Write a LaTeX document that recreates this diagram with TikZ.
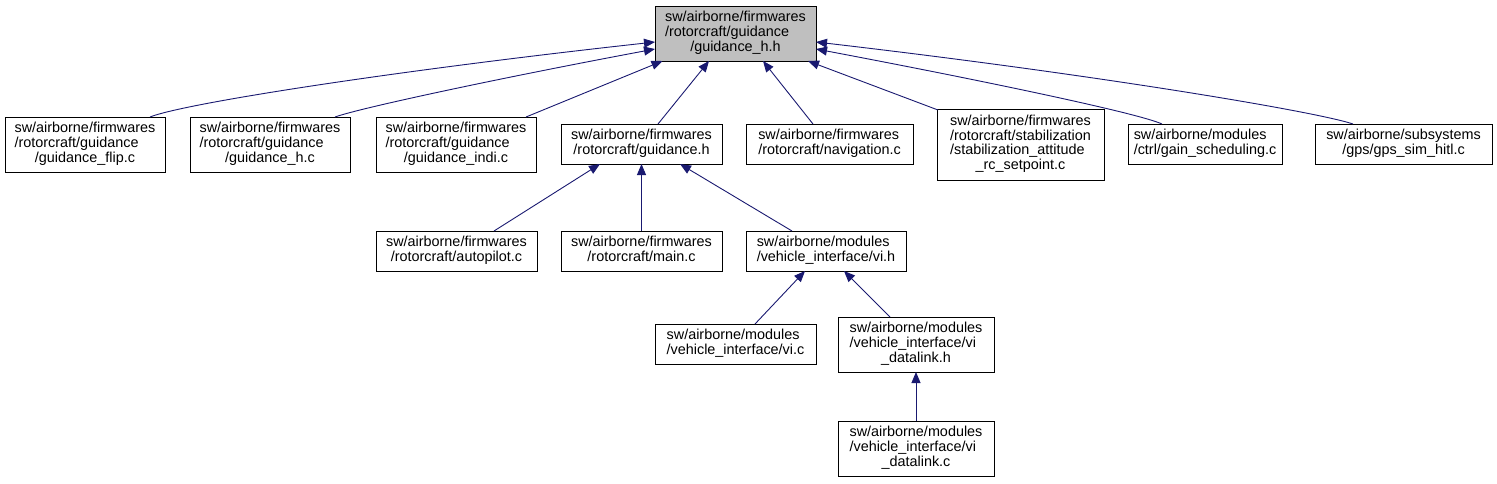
\documentclass[tikz,border=0pt]{standalone}
\usepackage{fontspec}
\setmainfont{Liberation Sans}
\usetikzlibrary{arrows.meta,calc}
\definecolor{edgeblue}{HTML}{191970}
\definecolor{rootgray}{HTML}{BFBFBF}
\newcommand{\lab}[1]{\begin{tabular}{@{}l@{}}#1\end{tabular}}
\newcommand{\cl}[1]{\multicolumn{1}{@{}c@{}}{#1}}
\begin{document}
\begin{tikzpicture}[x=1pt,y=-1pt,
  box/.style={draw=black, line width=0.9pt, fill=white, inner sep=0pt, outer sep=0pt,
              font=\fontsize{14.4}{14}\selectfont},
  edge/.style={draw=edgeblue, line width=0.9pt, -{Triangle[length=11pt,width=9pt]}}]
\useasboundingbox (0,0) rectangle (1497,483);
% row 1
\node[box, fill=rootgray, minimum width=161pt, minimum height=55pt] (root) at (735.5,33.5)
  {\lab{sw/airborne/firmwares\\/rotorcraft/guidance\\\cl{/guidance\_h.h}}};
% row 2
\node[box, minimum width=160pt, minimum height=55pt] (flip) at (85,144.5)
  {\lab{sw/airborne/firmwares\\/rotorcraft/guidance\\\cl{/guidance\_flip.c}}};
\node[box, minimum width=160pt, minimum height=55pt] (hc) at (270,144.5)
  {\lab{sw/airborne/firmwares\\/rotorcraft/guidance\\\cl{/guidance\_h.c}}};
\node[box, minimum width=160pt, minimum height=55pt] (indi) at (456,144.5)
  {\lab{sw/airborne/firmwares\\/rotorcraft/guidance\\\cl{/guidance\_indi.c}}};
\node[box, minimum width=161pt, minimum height=40pt] (gh) at (641.5,144)
  {\lab{sw/airborne/firmwares\\\cl{/rotorcraft/guidance.h}}};
\node[box, minimum width=167pt, minimum height=40pt] (nav) at (829.5,144)
  {\lab{sw/airborne/firmwares\\\cl{/rotorcraft/navigation.c}}};
\node[box, minimum width=167pt, minimum height=71pt] (stab) at (1020.5,144.5)
  {\lab{sw/airborne/firmwares\\/rotorcraft/stabilization\\/stabilization\_attitude\\\cl{\_rc\_setpoint.c}}};
\node[box, minimum width=154pt, minimum height=40pt] (gain) at (1205,144)
  {\lab{sw/airborne/modules\\\cl{/ctrl/gain\_scheduling.c}}};
\node[box, minimum width=177pt, minimum height=40pt] (gps) at (1403.5,144)
  {\lab{sw/airborne/subsystems\\\cl{/gps/gps\_sim\_hitl.c}}};
% row 3
\node[box, minimum width=161pt, minimum height=40pt] (auto) at (456.5,251)
  {\lab{sw/airborne/firmwares\\\cl{/rotorcraft/autopilot.c}}};
\node[box, minimum width=161pt, minimum height=40pt] (main) at (641.5,251)
  {\lab{sw/airborne/firmwares\\\cl{/rotorcraft/main.c}}};
\node[box, minimum width=160pt, minimum height=40pt] (vih) at (826,251)
  {\lab{sw/airborne/modules\\\cl{/vehicle\_interface/vi.h}}};
% row 4
\node[box, minimum width=161pt, minimum height=40pt] (vic) at (735.5,344)
  {\lab{sw/airborne/modules\\\cl{/vehicle\_interface/vi.c}}};
\node[box, minimum width=156pt, minimum height=55pt] (vidh) at (916,344.5)
  {\lab{sw/airborne/modules\\/vehicle\_interface/vi\\\cl{\_datalink.h}}};
% row 5
\node[box, minimum width=156pt, minimum height=55pt] (vidc) at (916,448.5)
  {\lab{sw/airborne/modules\\/vehicle\_interface/vi\\\cl{\_datalink.c}}};
% edges
\draw[edge] ($(flip.north)+(65,0)$) .. controls (185,103) and (400,70) .. ($(root.west)+(0,8.5)$);
\draw[edge] ($(hc.north)+(65,0)$) .. controls (360,108) and (500,78) .. ($(root.west)+(0,15.5)$);
\draw[edge] ($(indi.north)+(70,0)$) -- ($(root.south)+(-73,0)$);
\draw[edge] ($(gh.north)+(16.5,0)$) -- ($(root.south)+(-26.5,0)$);
\draw[edge] ($(nav.north)+(-16.5,0)$) -- ($(root.south)+(27.5,0)$);
\draw[edge] ($(stab.north west)+(1,1)$) -- ($(root.south)+(72.5,0)$);
\draw[edge] ($(gain.north)+(-43,0)$) .. controls (1138,113) and (980,80) .. ($(root.east)+(0,15.5)$);
\draw[edge] ($(gps.north)+(-50.5,0)$) .. controls (1318,112) and (1100,75) .. ($(root.east)+(0,8.5)$);
\draw[edge] ($(auto.north)+(37.5,0)$) -- ($(gh.south)+(-41.5,0)$);
\draw[edge] (main.north) -- (gh.south);
\draw[edge] ($(vih.north)+(-34,0)$) -- ($(gh.south)+(38.5,0)$);
\draw[edge] ($(vic.north)+(19.5,0)$) -- ($(vih.south)+(-21,0)$);
\draw[edge] ($(vidh.north)+(-26,0)$) -- ($(vih.south)+(18,0)$);
\draw[edge] (vidc.north) -- (vidh.south);
\end{tikzpicture}
\end{document}
